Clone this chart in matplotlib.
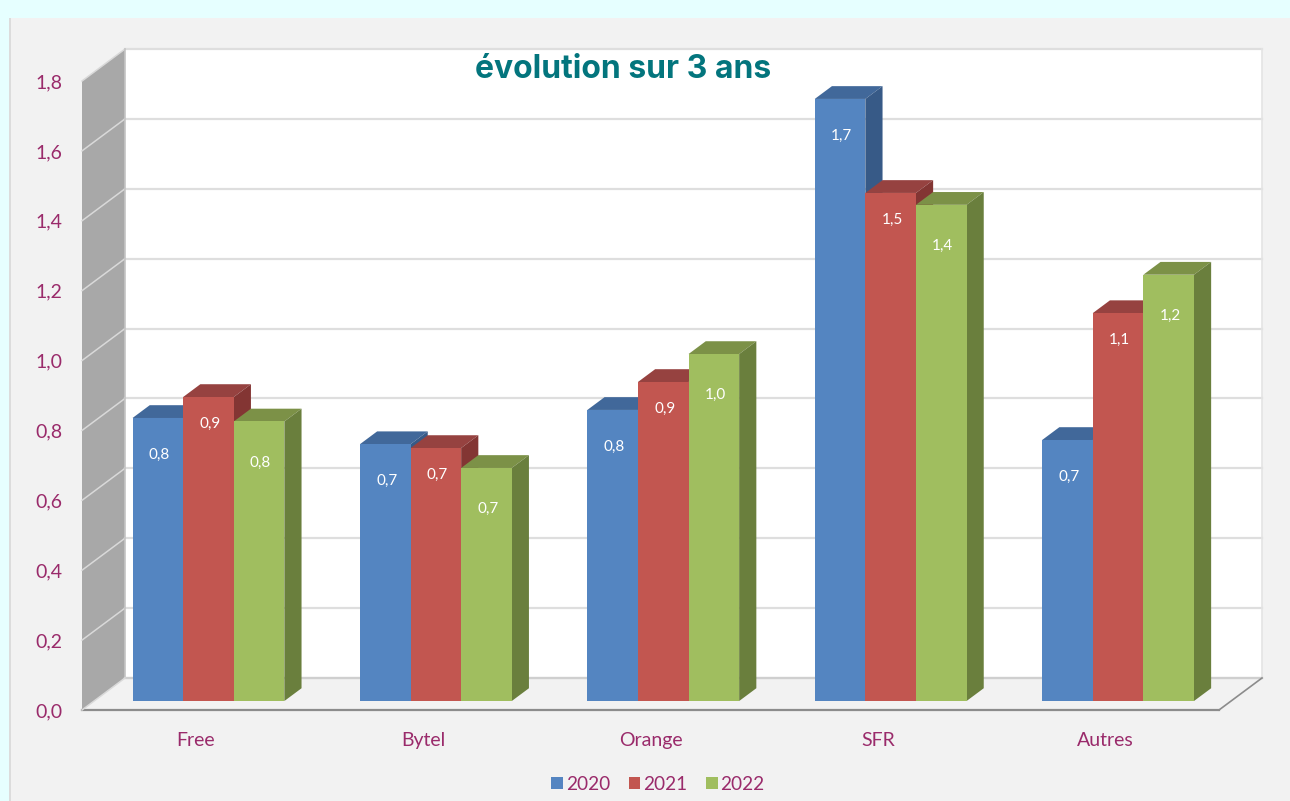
import matplotlib
matplotlib.use('Agg')
import matplotlib.pyplot as plt
from matplotlib.patches import Rectangle
import numpy as np

categories = ['Free', 'Bytel', 'Orange', 'SFR', 'Autres']
years = ['2020', '2021', '2022']
v2020 = [0.81, 0.735, 0.833, 1.723, 0.747]
v2021 = [0.87, 0.724, 0.913, 1.454, 1.11]
v2022 = [0.80, 0.667, 0.993, 1.42, 1.22]
yticks = [0.0, 0.2, 0.4, 0.6, 0.8, 1.0, 1.2, 1.4, 1.6, 1.8]

W, H = 1290, 801
TXT = '#9A2B6B'
plt.rcParams['font.family'] = ['Lato', 'DejaVu Sans']

fig = plt.figure(figsize=(W/100, H/100), dpi=100, facecolor='#E6FFFF')

# background panel
fig.patches.append(Rectangle((9/W, 0), 1-9/W, 1-18/H, transform=fig.transFigure, fc='#F2F2F2', ec='none', zorder=-5))
fig.patches.append(Rectangle((9/W, 0), 2/W, 1-18/H, transform=fig.transFigure, fc='#DCDCDC', ec='none', zorder=-4))

# axes = front plane of the chart
ax = fig.add_axes([82/W, 1-710/H, (1219-82)/W, (710-81)/H])
ax.set_xlim(0, 5)
ax.set_ylim(0, 1.8)
ax.patch.set_alpha(0)
for s in ax.spines.values():
    s.set_visible(False)

# depth of the fake 3D box, in data units
px_x = 5/1137
px_y = 1.8/629
dx = 43*px_x
dy = 32*px_y
d0, d1 = 0.28, 0.68   # front and back of bars inside the box

def pts(x, v, d):
    return (x + d*dx, v + d*dy)

def face(corners, **kw):
    xy = np.array(corners)
    ax.fill(xy[:, 0], xy[:, 1], clip_on=False, **kw)

# back wall, side wall, floor
face([pts(0, 0, 1), pts(5, 0, 1), pts(5, 1.8, 1), pts(0, 1.8, 1)], fc='white', ec='none', zorder=1)
face([pts(0, 0, 0), pts(0, 0, 1), pts(0, 1.8, 1), pts(0, 1.8, 0)], fc='#A8A8A8', ec='none', zorder=1)
face([pts(0, 0, 0), pts(5, 0, 0), pts(5, 0, 1), pts(0, 0, 1)], fc='#F2F2F2', ec='none', zorder=1)

# gridlines
for t in yticks:
    a, b = pts(0, t, 1), pts(5, t, 1)
    ax.plot([a[0], b[0]], [a[1], b[1]], color='#DEDEDE', lw=1.6, zorder=2, clip_on=False)
    if t > 0:
        c = pts(0, t, 0)
        ax.plot([c[0], a[0]], [c[1], a[1]], color='#D9D9D9', lw=1.1, zorder=2, clip_on=False)
a, b = pts(5, 0, 1), pts(5, 1.8, 1)
ax.plot([a[0], b[0]], [a[1], b[1]], color='#E4E4E4', lw=1.2, zorder=2, clip_on=False)
a, b = pts(0, 0, 1), pts(0, 1.8, 1)
ax.plot([a[0], b[0]], [a[1], b[1]], color='#C4C4C4', lw=1.2, zorder=2, clip_on=False)
a, b = pts(0, 0, 1), pts(5, 0, 1)
ax.plot([a[0], b[0]], [a[1], b[1]], color='#CFCFCF', lw=1.6, zorder=2, clip_on=False)

# floor front edge and corner
a, b = pts(5, 0, 0), pts(5, 0, 1)
ax.plot([0, 5], [0, 0], color='#8C8C8C', lw=1.6, zorder=3, clip_on=False)
ax.plot([a[0], b[0]], [a[1], b[1]], color='#8C8C8C', lw=1.2, zorder=3, clip_on=False)
a = pts(0, 0, 1)
ax.plot([0, a[0]], [0, a[1]], color='#D9D9D9', lw=1.1, zorder=3, clip_on=False)

# bars
series = [v2020, v2021, v2022]
fronts = ['#5485C1', '#C25650', '#A0BE5F']
tops = ['#41689A', '#964240', '#7C9147']
sides = ['#375A87', '#833533', '#6A7F3D']
lab_off = [37, 26.5, 41]   # label distance below the top, px
bw = 50.6*px_x
x0 = np.arange(5) + 0.5 - 1.5*bw + 0.7*px_x

for i in range(5):
    for j, vals in enumerate(series):
        v = vals[i]
        x = x0[i] + j*bw
        z = 10 + i*5 + j
        xf, yf = pts(x, 0, d0)
        ax.bar(xf, v, bw, bottom=yf, align='edge', color=fronts[j], ec='none', zorder=z+0.2,
               label=years[j] if i == 0 else None, clip_on=False)
        face([pts(x, v, d0), pts(x+bw, v, d0), pts(x+bw, v, d1), pts(x, v, d1)], fc=tops[j], ec='none', zorder=z)
        face([pts(x+bw, 0, d0), pts(x+bw, 0, d1), pts(x+bw, v, d1), pts(x+bw, v, d0)], fc=sides[j], ec='none', zorder=z+0.1)
        lx, ly = pts(x + bw/2, v, d0)
        ax.text(lx + 1.5*px_x, ly - lab_off[j]*px_y, f'{v:.1f}'.replace('.', ','), color='white',
                fontsize=11, ha='center', va='center', zorder=50)

# axis labels
ax.set_yticks(yticks)
ax.set_yticklabels([f'{t:.1f}'.replace('.', ',') for t in yticks], color=TXT, fontsize=14)
ax.set_xticks(np.arange(5) + 0.5)
ax.set_xticklabels(categories, color=TXT, fontsize=14)
ax.tick_params(axis='y', length=0, pad=14)
ax.tick_params(axis='x', length=0, pad=15.5)

leg = fig.legend(*ax.get_legend_handles_labels(), loc='center', bbox_to_anchor=(658/W, 1-784/H), ncol=3,
                 frameon=False, fontsize=13.7, handlelength=0.62, handleheight=0.62, handletextpad=0.15,
                 columnspacing=0.97, labelcolor=TXT)

fig.text(623/W, 1-69/H, 'évolution sur 3 ans', color='#03757D', fontsize=23, fontweight='bold',
         family='Inter', ha='center', va='center', zorder=60)

fig.savefig('out.png', dpi=100, facecolor=fig.get_facecolor())
